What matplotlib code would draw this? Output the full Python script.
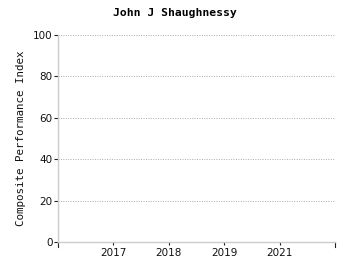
import matplotlib
matplotlib.use("Agg")
import matplotlib.pyplot as plt
import numpy as np

title = "John J Shaughnessy"
ylabel = "Composite Performance Index"
categories = ["2017", "2018", "2019", "2021"]
values = [np.nan, np.nan, np.nan, np.nan]  # no visible data in the reference
yticks = [0, 20, 40, 60, 80, 100]

fig = plt.figure(figsize=(3.5, 2.75), dpi=100)
ax = fig.add_axes([58/350, 1-242/275, (335-58)/350, (242-35)/275])

pos = np.arange(1, len(categories) + 1)
ax.plot(pos, values, color="#1f77b4")

ax.set_xlim(0, len(categories) + 1)
ax.set_ylim(0, 100)
ax.set_yticks(yticks)
ax.set_yticklabels([str(v) for v in yticks], fontsize=7.5, color="#111111")
ax.set_xticks(pos)
ax.set_xticklabels(categories, fontsize=7.5, color="#111111")
ax.tick_params(axis="x", length=2.5, width=0.8, color="#222222", pad=2)
ax.tick_params(axis="y", length=3, width=0.8, color="#222222", pad=1)
# end ticks on x axis
for xe in (0, len(categories) + 1):
    ax.plot([xe, xe], [0, -2.6], color="#222222", lw=0.8, clip_on=False,
            transform=ax.transData)

for v in yticks[1:]:
    ax.axhline(v, color="#aaaaaa", lw=0.7, ls=(0, (1, 1.5)), zorder=0)

for s in ("top", "right"):
    ax.spines[s].set_visible(False)
for s in ("left", "bottom"):
    ax.spines[s].set_color("#cccccc")
    ax.spines[s].set_linewidth(1.0)

ax.set_ylabel(ylabel, fontsize=7.8, family="DejaVu Sans Mono", color="#111111", labelpad=5)
fig.suptitle(title, fontsize=8.2, fontweight="bold", family="DejaVu Sans Mono", y=1-13/275, va="center")

fig.savefig("out.png", dpi=100)
